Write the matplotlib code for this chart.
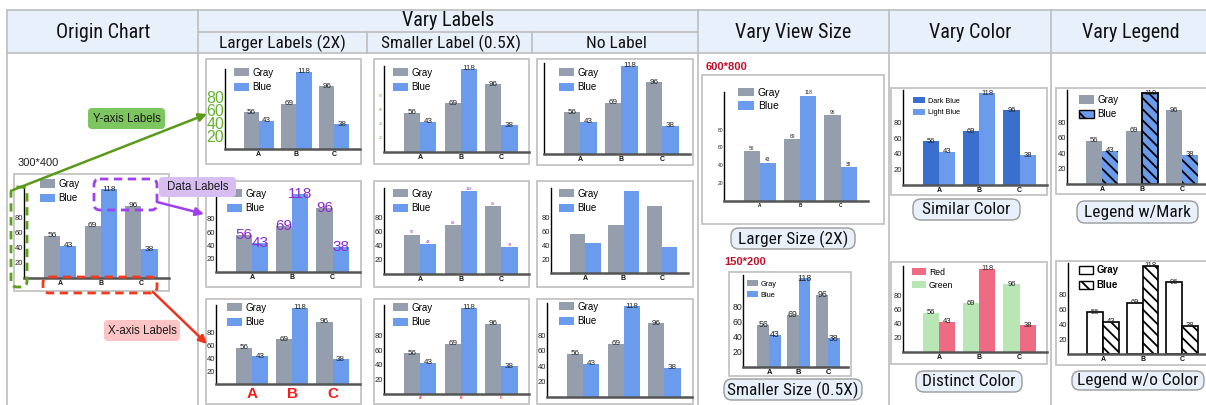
import numpy as np
import matplotlib
matplotlib.use('Agg')
import matplotlib.pyplot as plt
import matplotlib.patches as mpatches
from matplotlib import font_manager

W, H = 1206, 405

# data shared by every small chart
categories = ['A', 'B', 'C']
gray_vals = [56, 69, 96]
blue_vals = [43, 118, 38]
y_ticks = [20, 40, 60, 80]
series_names = ['Gray', 'Blue']
similar_names = ['Dark Blue', 'Light Blue']
distinct_names = ['Green', 'Red']

column_titles = ['Origin Chart', 'Vary Labels', 'Vary View Size', 'Vary Color', 'Vary Legend']
label_subtitles = ['Larger Labels (2X)', 'Smaller Label (0.5X)', 'No Label']
button_texts = ['Larger Size (2X)', 'Smaller Size (0.5X)', 'Similar Color',
                'Distinct Color', 'Legend w/Mark', 'Legend w/o Color']
size_texts = ['300*400', '600*800', '150*200']
note_texts = ['Y-axis Labels', 'Data Labels', 'X-axis Labels']


def pick_font(fams):
    for f in fams:
        try:
            font_manager.findfont(f, fallback_to_default=False)
            return f
        except ValueError:
            pass
    return 'DejaVu Sans'


HEAD = pick_font(['Liberation Sans Narrow', 'Roboto Condensed'])
hs, ss = 1.0, 1.0
if HEAD == 'DejaVu Sans':
    HEAD = pick_font(['Roboto', 'Open Sans'])
    hs, ss = 0.82, 0.76
BODY = pick_font(['Liberation Sans', 'Arial'])

plt.rcParams['hatch.linewidth'] = 1.3
plt.rcParams['font.family'] = BODY

GRAY = '#959eac'
BLUE = '#6a9bec'
GREEN_T = '#66b22e'
PURPLE = '#8c2ccf'
RED_T = '#ee1f1c'
HATCH = '\\\\\\'

fig = plt.figure(figsize=(W / 100, H / 100), dpi=100)
bg = fig.add_axes([0, 0, 1, 1], zorder=0)
bg.set_xlim(0, W)
bg.set_ylim(H, 0)
bg.axis('off')


def fig_rect(l, t, r, b):
    return [l / W, 1 - b / H, (r - l) / W, (b - t) / H]


def draw_chart(sp):
    fx0, fy0, fx1, fy1 = sp['frame']
    bg.add_patch(mpatches.Rectangle((fx0, fy0), fx1 - fx0, fy1 - fy0, facecolor='white',
                                    edgecolor='#c4c4c4', lw=1.3))
    l, t, r, b = sp['axes']
    ax = fig.add_axes(fig_rect(l, t, r, b), zorder=2)
    ax.patch.set_alpha(0)
    x = np.arange(len(categories))
    styles = sp.get('styles', [dict(fc=GRAY), dict(fc=BLUE)])
    for i, vals in enumerate([gray_vals, blue_vals]):
        st = styles[i]
        xs = x + (i - 0.5) * 0.4
        ax.bar(xs, vals, 0.4, color=st['fc'], edgecolor=st.get('ec', 'none'),
               linewidth=st.get('lw', 0), hatch=st.get('hatch'), zorder=2)
        if sp.get('dl_fs'):
            for xi, v in zip(xs, vals):
                ax.text(xi, v + sp.get('dl_off', 0), str(v), ha='center', va='center',
                        fontsize=sp['dl_fs'], color=sp.get('dl_color', '#222222'), zorder=3)
    ax.set_xlim(-0.89, 2.68)
    ax.set_ylim(0, 122)
    for s in ('top', 'right'):
        ax.spines[s].set_visible(False)
    ax.spines['left'].set_color('black')
    ax.spines['left'].set_linewidth(1.0)
    ax.spines['bottom'].set_color('#555555')
    ax.spines['bottom'].set_linewidth(1.8)
    ax.tick_params(length=0)
    ax.set_xticks(x)
    if sp.get('xl_fs'):
        ax.set_xticklabels(categories, fontsize=sp['xl_fs'], color=sp.get('xl_color', '#111111'),
                           fontweight=sp.get('xl_weight', 'bold'))
        ax.tick_params(axis='x', pad=sp.get('xl_pad', 1.5))
    else:
        ax.set_xticklabels([])
    if sp.get('tick_fs'):
        ax.set_yticks(y_ticks)
        ax.set_yticklabels([str(v) for v in y_ticks], fontsize=sp['tick_fs'],
                           color=sp.get('tick_color', '#222222'))
        ax.tick_params(axis='y', pad=0.6)
    else:
        ax.set_yticks([])

    # legend
    px, py, fs, pw, ph, pitch = sp['leg']
    fs_px = fs * 100 / 72
    names = sp.get('names', series_names)
    order = sp.get('leg_order', [0, 1])
    handles = []
    for st in styles:
        handles.append(mpatches.Patch(facecolor=st['fc'], edgecolor=st.get('leg_ec', 'none'),
                                      linewidth=st.get('leg_lw', 0), hatch=st.get('leg_hatch')))
    row_h = 1.15 * fs_px
    ax.legend([handles[k] for k in order], [names[k] for k in order], loc='upper left',
              bbox_to_anchor=(px, py - max(0, (row_h - ph) / 2)), bbox_transform=bg.transData,
              frameon=False, prop=dict(family=BODY, size=fs, weight=sp.get('leg_weight', 'normal')),
              handlelength=pw / fs_px, handleheight=ph / fs_px, handletextpad=0.35,
              labelspacing=max(0.0, (pitch - row_h) / fs_px), borderpad=0, borderaxespad=0)
    return ax


# ---------- table ----------
head_fc = '#e8f1fb'
line_c = '#bdbdbd'
bg.add_patch(mpatches.Rectangle((7, 10), W - 7, 43, facecolor=head_fc, edgecolor='none'))
for y, x0, x1 in [(10, 7, W), (53, 7, W), (32, 198, 698)]:
    bg.plot([x0, x1], [y, y], color=line_c, lw=1.2)
for x in [7, 198, 698, 889, 1051]:
    bg.plot([x, x], [10, H], color=line_c, lw=1.2)
for x in [367, 532]:
    bg.plot([x, x], [32, 53], color=line_c, lw=1.2)

title_x = [103, 448, 793, 970, 1131]
title_y = [32, 21, 32, 32, 32]
for t, tx, ty in zip(column_titles, title_x, title_y):
    bg.text(tx, ty, t, ha='center', va='center', fontsize=14.5 * hs, family=HEAD, color='#111111')
for t, tx in zip(label_subtitles, [282, 451, 616]):
    bg.text(tx, 43, t, ha='center', va='center', fontsize=12.5 * ss, family=HEAD, color='#111111')

# buttons under some charts
button_boxes = [(731, 228, 855, 249), (724, 379, 862, 400), (913, 199, 1020, 220),
                (916, 371, 1022, 392), (1077, 201, 1198, 223), (1072, 371, 1204, 390)]
for t, (x0, y0, x1, y1) in zip(button_texts, button_boxes):
    bg.add_patch(mpatches.FancyBboxPatch((x0, y0), x1 - x0, y1 - y0,
                                         boxstyle='round,pad=0,rounding_size=8',
                                         facecolor=head_fc, edgecolor='#9a9a9a', lw=1.0))
    bg.text((x0 + x1) / 2, (y0 + y1) / 2 + 0.5, t, ha='center', va='center',
            fontsize=12.5 * hs, family=HEAD, color='#111111')

bg.text(18, 163, size_texts[0], ha='left', va='center', fontsize=8, color='#222222')
bg.text(706, 67, size_texts[1], ha='left', va='center', fontsize=8, color='#c0102a',
        fontweight='bold')
bg.text(724, 262, size_texts[2], ha='left', va='center', fontsize=8, color='#c0102a',
        fontweight='bold')

# ---------- charts ----------
charts = [
    # origin
    dict(frame=(14, 174, 169, 291), axes=(24, 186, 169, 278), tick_fs=5.5, xl_fs=5,
         dl_fs=6, leg=(40, 180, 7, 15, 9, 15.5)),
    # vary labels, row 1 (y-axis)
    dict(frame=(206, 59, 361, 164), axes=(225, 69, 360, 149), tick_fs=11.5, tick_color=GREEN_T,
         xl_fs=5, dl_fs=5.8, leg=(234, 69, 7, 15, 8.5, 16)),
    dict(frame=(374, 59, 529, 164), axes=(384, 66, 529, 152), tick_fs=2.5, tick_color=GREEN_T,
         xl_fs=5, dl_fs=5.8, leg=(393, 69, 7, 15, 8.5, 16)),
    dict(frame=(537, 59, 693, 165), axes=(544, 63, 690, 154), tick_fs=None,
         xl_fs=5, dl_fs=5.8, leg=(559, 69, 7, 15, 8.5, 16)),
    # row 2 (data labels)
    dict(frame=(206, 181, 361, 287), axes=(216, 191, 360, 272), tick_fs=5.5,
         xl_fs=5, dl_fs=11, dl_color=PURPLE, leg=(227, 190, 7, 15, 8.5, 16)),
    dict(frame=(374, 181, 529, 287), axes=(384, 188, 529, 274), tick_fs=5.5,
         xl_fs=5, dl_fs=2.8, dl_color=PURPLE, dl_off=3, leg=(393, 190, 7, 15, 8.5, 16)),
    dict(frame=(537, 181, 693, 287), axes=(551, 188, 688, 273), tick_fs=5.5,
         xl_fs=5, dl_fs=None, leg=(559, 190, 7, 15, 8.5, 16)),
    # row 3 (x labels)
    dict(frame=(206, 299, 361, 404), axes=(216, 305, 360, 384), tick_fs=5.5,
         xl_fs=11, xl_color=RED_T, xl_weight='bold', xl_pad=2.5, dl_fs=5.8,
         leg=(227, 304, 7, 15, 8.5, 16)),
    dict(frame=(374, 299, 529, 404), axes=(384, 305, 529, 394), tick_fs=5.5,
         xl_fs=2.5, xl_color=RED_T, dl_fs=5.8, leg=(393, 304, 7, 15, 8.5, 16)),
    dict(frame=(537, 299, 693, 404), axes=(547, 303, 692, 397), tick_fs=5.5,
         xl_fs=None, dl_fs=5.8, leg=(559, 303, 7, 15, 8.5, 16)),
    # view size
    dict(frame=(702, 75, 884, 224), axes=(724, 92, 868, 201), tick_fs=3.6,
         xl_fs=3.4, dl_fs=3.5, dl_off=3, leg=(738, 89, 7.5, 16, 9, 15.7)),
    dict(frame=(729, 272, 851, 376), axes=(743, 275, 848, 367), tick_fs=6.3,
         xl_fs=5.5, dl_fs=6.3, leg=(747, 281, 5.3, 11, 6.5, 12)),
    # colors
    dict(frame=(891, 88, 1047, 195), axes=(903, 90, 1047, 185), tick_fs=5.5,
         xl_fs=5, dl_fs=5.5, leg=(913, 98, 5.2, 12, 6.5, 12.3),
         styles=[dict(fc='#3a6fce'), dict(fc=BLUE)], names=similar_names),
    dict(frame=(891, 262, 1047, 364), axes=(903, 266, 1047, 352), tick_fs=5.5,
         xl_fs=5, dl_fs=5.5, leg=(912, 269, 6.2, 14, 7.5, 14),
         styles=[dict(fc='#b9e6b5'), dict(fc='#ef6b84')], names=distinct_names,
         leg_order=[1, 0]),
    # legends
    dict(frame=(1056, 88, 1215, 194), axes=(1067, 90, 1209, 184), tick_fs=5.5,
         xl_fs=5, dl_fs=5.5, leg=(1079, 96, 7, 15, 9, 15.3),
         styles=[dict(fc=GRAY),
                 dict(fc=BLUE, ec='black', lw=[0, 1.3, 0], hatch=HATCH, leg_ec='black',
                      leg_lw=1, leg_hatch='\\\\')]),
    dict(frame=(1056, 261, 1215, 365), axes=(1068, 263, 1209, 354), tick_fs=5.5,
         xl_fs=5, dl_fs=5.5, leg=(1079, 267, 7, 14, 8, 16), leg_weight='bold',
         styles=[dict(fc='white', ec='black', lw=1.2, leg_ec='black', leg_lw=1),
                 dict(fc='white', ec='black', lw=1.2, hatch=HATCH, leg_ec='black', leg_lw=1,
                      leg_hatch='\\\\')]),
]
for sp in charts:
    draw_chart(sp)

# ---------- annotations on top ----------
top = fig.add_axes([0, 0, 1, 1], zorder=10)
top.set_xlim(0, W)
top.set_ylim(H, 0)
top.axis('off')
top.patch.set_alpha(0)

dash_boxes = [((11, 187, 27, 287), '#5e9e1e'), ((94, 179, 157, 210), '#a040f0'),
              ((43, 277, 157, 293), '#f03c1e')]
for (x0, y0, x1, y1), c in dash_boxes:
    top.add_patch(mpatches.FancyBboxPatch((x0, y0), x1 - x0, y1 - y0,
                                          boxstyle='round,pad=0,rounding_size=6',
                                          facecolor='none', edgecolor=c, lw=2,
                                          linestyle=(0, (3, 2))))

arrows = [((13, 190), (207, 114), '#5a9a1a'), ((157, 202), (204, 214), '#a040f0'),
          ((153, 292), (207, 344), '#f0341c')]
for start, end, c in arrows:
    top.annotate('', xy=end, xytext=start,
                 arrowprops=dict(arrowstyle='-|>', color=c, lw=1.8, mutation_scale=12,
                                 shrinkA=0, shrinkB=0))

note_boxes = [(88, 108, 165, 129), (159, 177, 236, 197), (104, 320, 180, 341)]
note_colors = ['#7dc55e', '#d7bdf0', '#fcc4c4']
for t, (x0, y0, x1, y1), c in zip(note_texts, note_boxes, note_colors):
    top.add_patch(mpatches.FancyBboxPatch((x0, y0), x1 - x0, y1 - y0,
                                          boxstyle='round,pad=0,rounding_size=4',
                                          facecolor=c, edgecolor='none'))
    top.text((x0 + x1) / 2, (y0 + y1) / 2, t, ha='center', va='center', fontsize=8.3,
             color='#1a1a1a')

fig.savefig('out.png', dpi=100)
